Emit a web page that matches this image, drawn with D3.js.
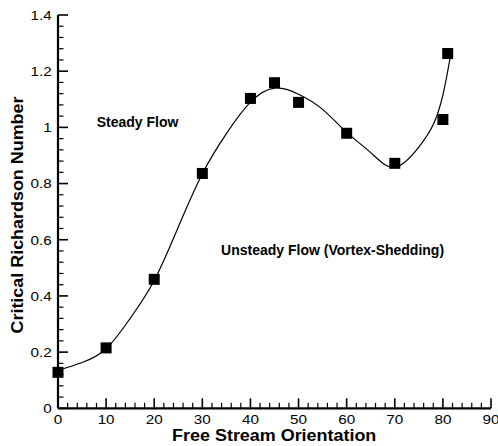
<!DOCTYPE html>
<html><head><meta charset="utf-8">
<script src="https://cdn.jsdelivr.net/npm/d3@7"></script>
<style>body{margin:0;background:#fff}svg{display:block}text{font-family:Arial,"Liberation Sans",sans-serif;fill:#000}</style>
</head><body><svg id="c" width="498" height="446"></svg>
<script>
// Measured data points (square markers)
const pointX = [0, 10, 20, 30, 40, 45, 50, 60, 70, 80, 81];
const pointY = [0.128, 0.215, 0.459, 0.836, 1.103, 1.159, 1.089, 0.979, 0.872, 1.028, 1.263];
// Fitted curve
const curveX = [0, 5, 10, 15, 20, 25, 30, 35, 40, 45, 50, 55, 60, 65, 70, 75, 78, 80, 81.5];
const curveY = [0.135, 0.163, 0.212, 0.32, 0.455, 0.645, 0.835, 0.978, 1.09, 1.14, 1.118, 1.064, 0.982, 0.91, 0.858, 0.93, 1.01, 1.115, 1.248];
const xTicks = [0, 10, 20, 30, 40, 50, 60, 70, 80, 90];
const yTicks = [0, 0.2, 0.4, 0.6, 0.8, 1, 1.2, 1.4];
const xTitle = "Free Stream Orientation";
const yTitle = "Critical Richardson Number";
const notes = [{text: "Steady Flow", x: 8.05, y: 1.0}, {text: "Unsteady Flow (Vortex-Shedding)", x: 33.9, y: 0.544}];

const svg = d3.select("#c");
const x = d3.scaleLinear().domain([0, 90]).range([58, 491]);
const y = d3.scaleLinear().domain([0, 1.4]).range([408.3, 15]);

const g = svg.append("g");
// minor ticks
const xMinor = d3.range(0, 90.01, 2).filter(v => v % 10 !== 0);
const yMinor = d3.range(0, 1.401, 0.04).filter(v => Math.abs(v / 0.2 - Math.round(v / 0.2)) > 1e-6);
g.selectAll(".xm").data(xMinor).join("line")
  .attr("x1", d => x(d)).attr("x2", d => x(d)).attr("y1", y(0)).attr("y2", y(0) - 5.5)
  .attr("stroke", "#000").attr("stroke-width", 1.2);
g.selectAll(".xM").data(xTicks).join("line")
  .attr("x1", d => x(d)).attr("x2", d => x(d)).attr("y1", y(0)).attr("y2", y(0) - 10)
  .attr("stroke", "#000").attr("stroke-width", 1.6);
g.selectAll(".ym").data(yMinor).join("line")
  .attr("x1", x(0)).attr("x2", x(0) + 5.5).attr("y1", d => y(d)).attr("y2", d => y(d))
  .attr("stroke", "#000").attr("stroke-width", 1.2);
g.selectAll(".yM").data(yTicks).join("line")
  .attr("x1", x(0)).attr("x2", x(0) + 10).attr("y1", d => y(d)).attr("y2", d => y(d))
  .attr("stroke", "#000").attr("stroke-width", 1.6);
// axis lines
g.append("line").attr("x1", x(0)).attr("x2", x(90)).attr("y1", y(0)).attr("y2", y(0)).attr("stroke", "#000").attr("stroke-width", 2.2);
g.append("line").attr("x1", x(0)).attr("x2", x(0)).attr("y1", y(0)).attr("y2", y(1.4)).attr("stroke", "#000").attr("stroke-width", 2.2);

// tick labels (slightly wide glyphs as in the source)
g.selectAll(".xl").data(xTicks).join("text")
  .attr("transform", d => `translate(${x(d)},423.5) scale(1.13,1)`).attr("text-anchor", "middle")
  .attr("font-size", 13.5).text(d => d);
g.selectAll(".yl").data(yTicks).join("text")
  .attr("transform", d => `translate(51.7,${y(d) + 4.8}) scale(1.13,1)`).attr("text-anchor", "end")
  .attr("font-size", 13.5).text(d => d);

// titles
svg.append("text").attr("transform", "translate(274.2,440.7) scale(1.1,1)").attr("text-anchor", "middle")
  .attr("font-size", 16.3).attr("font-weight", "bold").text(xTitle);
svg.append("text").attr("transform", "translate(22.5,215) rotate(-90) scale(1.1,1)").attr("text-anchor", "middle")
  .attr("font-size", 16.3).attr("font-weight", "bold").text(yTitle);

// annotations
svg.selectAll(".note").data(notes).join("text")
  .attr("x", d => x(d.x)).attr("y", d => y(d.y))
  .attr("font-size", 14).attr("font-weight", "bold").text(d => d.text);

// curve
const line = d3.line().x(d => x(d[0])).y(d => y(d[1])).curve(d3.curveNatural);
svg.append("path").datum(d3.zip(curveX, curveY)).attr("d", line)
  .attr("fill", "none").attr("stroke", "#000").attr("stroke-width", 1.2);

// markers
const s = 11;
svg.selectAll(".pt").data(d3.zip(pointX, pointY)).join("rect")
  .attr("x", d => x(d[0]) - s / 2).attr("y", d => y(d[1]) - s / 2)
  .attr("width", s).attr("height", s).attr("fill", "#000");
</script></body></html>
